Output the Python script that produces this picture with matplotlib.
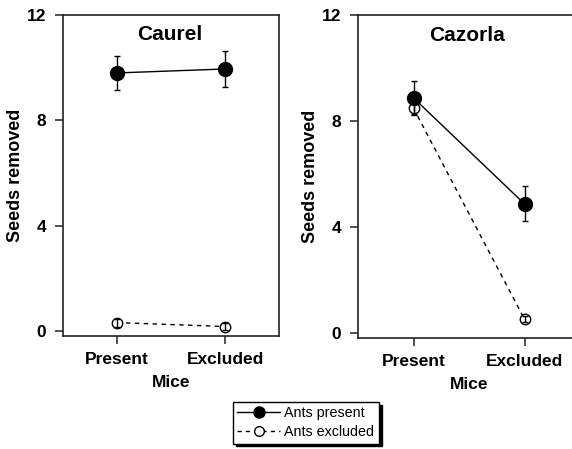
import matplotlib
matplotlib.use("Agg")
import matplotlib.pyplot as plt
from matplotlib.lines import Line2D

plt.rcParams['font.family'] = ['Liberation Sans', 'DejaVu Sans']

mice = ["Present", "Excluded"]
sites = ["Caurel", "Cazorla"]

# Seeds removed (mean, SE)
caurel_ants_present = [9.8, 9.95]
caurel_ants_present_err = [0.63, 0.67]
caurel_ants_excluded = [0.32, 0.17]
caurel_ants_excluded_err = [0.15, 0.12]

cazorla_ants_present = [8.87, 4.87]
cazorla_ants_present_err = [0.65, 0.66]
cazorla_ants_excluded = [8.48, 0.52]
cazorla_ants_excluded_err = [0.22, 0.12]

legend_labels = ["Ants present", "Ants excluded"]

W, H = 572, 449
fig = plt.figure(figsize=(W / 100, H / 100), dpi=100)

def px_axes(l, t, r, b):
    return fig.add_axes([l / W, 1 - b / H, (r - l) / W, (b - t) / H])

ax1 = px_axes(63, 15, 279, 336)
ax2 = px_axes(358, 15, 580, 338)

panels = [
    (ax1, "Caurel", 0.495, caurel_ants_present, caurel_ants_present_err,
     caurel_ants_excluded, caurel_ants_excluded_err),
    (ax2, "Cazorla", 0.49, cazorla_ants_present, cazorla_ants_present_err,
     cazorla_ants_excluded, cazorla_ants_excluded_err),
]

x = list(range(len(mice)))
for ax, title, tx, yp, ep, ye, ee in panels:
    # ants excluded (dashed, open)
    ax.plot(x, ye, linestyle=(0, (3.2, 3.2)), color='black', lw=1.0, zorder=2)
    ax.plot(x, ye, linestyle='none', marker='o', ms=7.5, mfc='white',
            mec='black', mew=1.0, zorder=3)
    ax.errorbar(x, ye, yerr=ee, fmt='none', ecolor='black', elinewidth=1.0,
                capsize=2.2, capthick=1.0, zorder=4)
    # ants present (solid, filled)
    ax.errorbar(x, yp, yerr=ep, fmt='none', ecolor='black', elinewidth=1.0,
                capsize=2.5, capthick=1.0, zorder=5)
    ax.plot(x, yp, linestyle='-', color='black', lw=1.0, marker='o', ms=10,
            mfc='black', mec='black', zorder=6)

    ax.set_xlim(-0.5, 1.5)
    ax.set_ylim(-0.19, 12)
    ax.set_yticks([0, 4, 8, 12])
    ax.set_xticks(x)
    ax.set_xticklabels(mice)
    for lab in ax.get_xticklabels() + ax.get_yticklabels():
        lab.set_fontweight('bold')
        lab.set_fontsize(12.5)
    ax.tick_params(direction='out', length=6, width=1.1, color='#222222')
    ax.tick_params(axis='y', pad=6)
    ax.tick_params(axis='x', pad=5.5)
    for s in ax.spines.values():
        s.set_linewidth(1.2)
        s.set_color('#222222')
    ax.set_ylabel("Seeds removed", fontsize=13, fontweight='bold', labelpad=2)
    ax.set_xlabel("Mice", fontsize=12.5, fontweight='bold', labelpad=6)
    ax.text(tx, 0.938, title, transform=ax.transAxes, ha='center',
            va='center', fontsize=15, fontweight='bold')

handles = [
    Line2D([], [], color='black', lw=1.0, marker='o', ms=8, mfc='black',
           mec='black'),
    Line2D([], [], color='black', lw=1.0, linestyle=(0, (3, 3)), marker='o',
           ms=7, mfc='white', mec='black'),
]
leg = fig.legend(handles, legend_labels, loc='upper left',
                 bbox_to_anchor=(233 / W, 1 - 402 / H), fontsize=10.3,
                 frameon=True, fancybox=False, handlelength=3.0,
                 handletextpad=0.3, borderpad=0.3, labelspacing=0.35,
                 borderaxespad=0, shadow={'color': 'black', 'alpha': 1})
leg.get_frame().set_edgecolor('black')
leg.get_frame().set_linewidth(1.0)

fig.savefig("out.png", dpi=100)
